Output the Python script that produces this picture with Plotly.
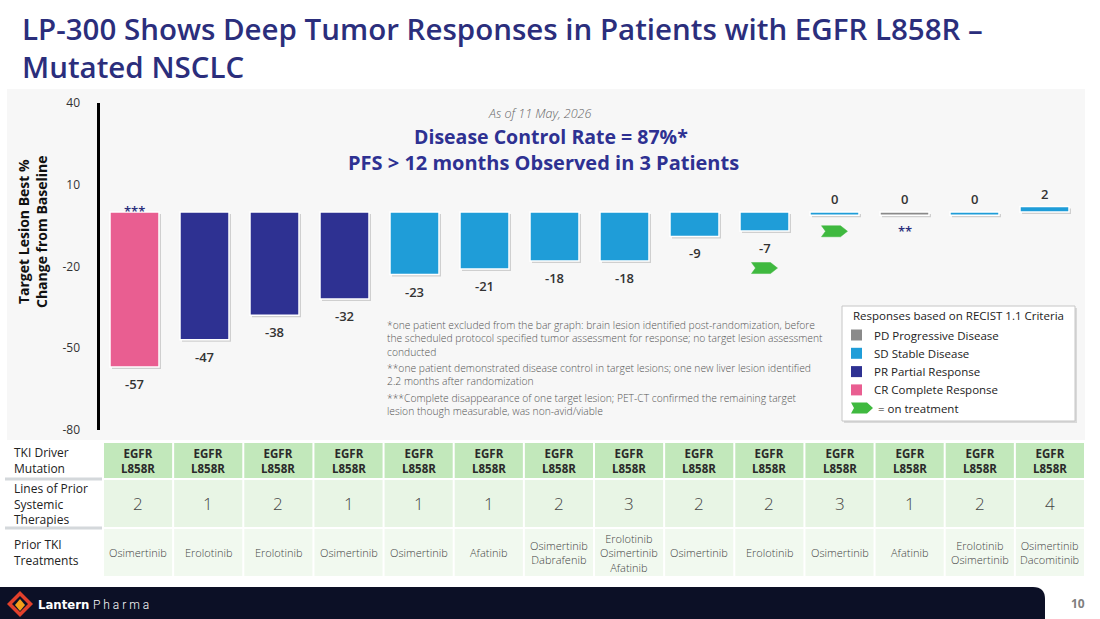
import plotly.graph_objects as go

# ---------------- data ----------------
patients = list(range(1, 15))
best_change = [-57, -47, -38, -32, -23, -21, -18, -18, -9, -7, 0, 0, 0, 2]
response = ["CR", "PR", "PR", "PR", "SD", "SD", "SD", "SD", "SD", "SD", "SD", "PD", "SD", "SD"]
on_treatment = [False] * 9 + [True, True] + [False] * 3
footnote_marks = ["***", "", "", "", "", "", "", "", "", "", "", "**", "", ""]
y_ticks = [-80, -50, -20, 10, 40]
y_tick_labels = ["-80", "-50", "-20", "10", "40"]

driver_mutation = ["EGFR<br>L858R"] * 14
prior_lines = [2, 1, 2, 1, 1, 1, 2, 3, 2, 2, 3, 1, 2, 4]
prior_tki = ["Osimertinib", "Erolotinib", "Erolotinib", "Osimertinib", "Osimertinib", "Afatinib",
             "Osimertinib<br>Dabrafenib", "Erolotinib<br>Osimertinib<br>Afatinib", "Osimertinib",
             "Erolotinib", "Osimertinib", "Afatinib", "Erolotinib<br>Osimertinib",
             "Osimertinib<br>Dacomitinib"]
row_labels = ["TKI Driver<br>Mutation", "Lines of Prior<br>Systemic<br>Therapies", "Prior TKI<br>Treatments"]

legend_order = ["PD", "SD", "PR", "CR"]
legend_labels = {"PD": "PD Progressive Disease", "SD": "SD Stable Disease",
                 "PR": "PR Partial Response", "CR": "CR Complete Response"}

title_text = "LP-300 Shows Deep Tumor Responses in Patients with EGFR L858R –<br>Mutated NSCLC"
date_text = "As of 11 May, 2026"
headline1 = "Disease Control Rate = 87%*"
headline2 = "PFS > 12 months Observed in 3 Patients"
footnotes = [
    "*one patient excluded from the bar graph: brain lesion identified post-randomization, before<br>"
    "the scheduled protocol specified tumor assessment for response; no target lesion assessment<br>conducted",
    "**one patient demonstrated disease control in target lesions; one new liver lesion identified<br>"
    "2.2 months after randomization",
    "***Complete disappearance of one target lesion; PET-CT confirmed the remaining target<br>"
    "lesion though measurable, was non-avid/viable",
]

# ---------------- style ----------------
W, H = 1100, 619
FONT = "Open Sans"
colors = {"CR": "#e95e91", "PR": "#2e3192", "SD": "#1f9dd8", "PD": "#8a8a8a"}
NAVY = "#2b2e7c"
GREEN = "#3fb93f"


def px(x):
    return x / W


def py(y):
    return 1 - y / H


def text(x, y, t, font, xanchor="center", yanchor="middle", **kw):
    d = dict(x=px(x), y=py(y), xref="paper", yref="paper", text=t, showarrow=False,
             xanchor=xanchor, yanchor=yanchor, font=font)
    d.update(kw)
    return d


# plot geometry (pixels)
X_LEFT, X_RIGHT = 99.5, 1079.5
Y_TOP, Y_BOT = 103.2, 429.6
Y_MIN, Y_MAX = -80, 40
PX_PER_UNIT = (Y_BOT - Y_TOP) / (Y_MAX - Y_MIN)
PX_PER_CAT = (X_RIGHT - X_LEFT) / len(patients)
MIN_BAR = 1.2  # minimum visible height for zero-change bars
BAR_W = 0.7
SHADOW = 2.0  # px

display_vals = [v if v != 0 else -MIN_BAR for v in best_change]
bar_colors = [colors[r] for r in response]
xs = list(range(len(patients)))

fig = go.Figure()

# soft drop shadow under the bars
fig.add_trace(go.Bar(
    x=xs, y=display_vals, base=-SHADOW / PX_PER_UNIT, width=BAR_W,
    offset=-BAR_W / 2 + SHADOW / PX_PER_CAT,
    marker=dict(color="rgba(0,0,0,0.16)", line=dict(width=0)),
    hoverinfo="skip", showlegend=False, xaxis="x", yaxis="y",
))
# bars
fig.add_trace(go.Bar(
    x=xs, y=display_vals, width=BAR_W,
    marker=dict(color=bar_colors, line=dict(color="white", width=1.5)),
    hoverinfo="skip", showlegend=False, xaxis="x", yaxis="y",
))

# "on treatment" chevrons
cw, ch, notch, tip = 26 / PX_PER_CAT, 11 / PX_PER_UNIT, 4 / PX_PER_CAT, 7 / PX_PER_CAT
chev_x, chev_y = [], []
for i, (v, d, flag) in enumerate(zip(best_change, display_vals, on_treatment)):
    if not flag:
        continue
    below = 37 if v < 0 else 16
    cy = min(d, 0) - below / PX_PER_UNIT
    cx = i
    pts = [(cx - cw / 2, cy + ch / 2), (cx + cw / 2 - tip, cy + ch / 2), (cx + cw / 2, cy),
           (cx + cw / 2 - tip, cy - ch / 2), (cx - cw / 2, cy - ch / 2), (cx - cw / 2 + notch, cy),
           (cx - cw / 2, cy + ch / 2)]
    chev_x += [p[0] for p in pts] + [None]
    chev_y += [p[1] for p in pts] + [None]
fig.add_trace(go.Scatter(x=chev_x, y=chev_y, mode="lines", fill="toself", fillcolor=GREEN,
                         line=dict(color=GREEN, width=0.5), hoverinfo="skip", showlegend=False,
                         xaxis="x", yaxis="y"))

shapes = []
ann = []

# background panel
shapes.append(dict(type="rect", xref="paper", yref="paper", x0=px(7), x1=px(1085), y0=py(440), y1=py(89),
                   fillcolor="#f7f7f7", line=dict(width=0), layer="below"))

# bar value labels and footnote marks
LBL = dict(family=FONT, size=13, color="#333", weight=600)
STAR = dict(family=FONT, size=13, color=NAVY, weight=600)
for i, (v, d, m) in enumerate(zip(best_change, display_vals, footnote_marks)):
    if v < 0:
        ann.append(dict(x=i, y=d, xref="x", yref="y", text=str(v), showarrow=False, xanchor="center",
                        yanchor="top", yshift=-6, font=LBL))
    else:
        ann.append(dict(x=i, y=max(v, 0), xref="x", yref="y", text=str(v), showarrow=False, xanchor="center",
                        yanchor="bottom", yshift=2, font=LBL))
    if m:
        if v < 0:
            ann.append(dict(x=i, y=0, xref="x", yref="y", text=m, showarrow=False, xanchor="center",
                            yanchor="middle", yshift=1, font=STAR))
        else:
            ann.append(dict(x=i, y=min(d, 0), xref="x", yref="y", text=m, showarrow=False, xanchor="center",
                            yanchor="middle", yshift=-16, font=STAR))

# titles
ann.append(text(20, 6, title_text, dict(family=FONT, size=29.5, color=NAVY, weight=600),
                xanchor="left", yanchor="top", align="left"))
ann.append(text(539, 113, "<i>" + date_text + "</i>", dict(family=FONT, size=12.5, color="#666", weight=300)))
ann.append(text(551, 137, headline1, dict(family=FONT, size=19.5, color="#2e3192", weight=700)))
ann.append(text(543, 162, headline2, dict(family=FONT, size=20, color="#2e3192", weight=700)))
ann.append(text(33, 232, "Target Lesion Best %<br>Change from Baseline",
                dict(family=FONT, size=14, color="#111", weight=700), textangle=-90))

# footnotes
for txt, top in zip(footnotes, [316, 359, 389]):
    ann.append(text(385, top, txt, dict(family=FONT, size=10.3, color="#555", weight=300),
                    xanchor="left", yanchor="top", align="left"))

# legend box
shapes.append(dict(type="rect", xref="paper", yref="paper", x0=px(844), x1=px(1077), y0=py(423), y1=py(308),
                   fillcolor="#d9d9d9", line=dict(width=0)))
shapes.append(dict(type="rect", xref="paper", yref="paper", x0=px(842), x1=px(1075), y0=py(421), y1=py(306),
                   fillcolor="white", line=dict(color="#c6c6c6", width=1)))
LEG = dict(family=FONT, size=11.5, color="#222")
ann.append(text(851, 315, "Responses based on RECIST 1.1 Criteria", dict(LEG, weight=500), xanchor="left"))
for k, code in enumerate(legend_order):
    cy = 335 + 18.3 * k
    shapes.append(dict(type="rect", xref="paper", yref="paper", x0=px(851), x1=px(862), y0=py(cy + 5.5),
                       y1=py(cy - 5.5), fillcolor=colors[code], line=dict(width=0)))
    ann.append(text(872, cy, legend_labels[code], LEG, xanchor="left"))


def chevron_path(cx, cy, w, h, n, t):
    pts = [(cx - w / 2, cy - h / 2), (cx + w / 2 - t, cy - h / 2), (cx + w / 2, cy), (cx + w / 2 - t, cy + h / 2),
           (cx - w / 2, cy + h / 2), (cx - w / 2 + n, cy)]
    return "M " + " L ".join(f"{px(a):.5f},{py(b):.5f}" for a, b in pts) + " Z"


shapes.append(dict(type="path", xref="paper", yref="paper", path=chevron_path(862, 408, 22, 11, 3, 6),
                   fillcolor=GREEN, line=dict(width=0)))
ann.append(text(876, 408, "= on treatment", LEG, xanchor="left"))

# table (axis x2 / y2)
row_tops = [0, 37, 86]
row_heights = [35, 47, 47]
row_fills = ["#c2e8bb", "#e8f5e5", "#f1f9ef"]
T_LEFT, T_RIGHT = 103, 1085
gap = 1 / ((T_RIGHT - T_LEFT) / len(patients))
table_rows = [
    (["<b>" + s + "</b>" for s in driver_mutation], dict(family=FONT, size=11.5, color="#2a2a2a")),
    ([str(n) for n in prior_lines], dict(family=FONT, size=17, color="#444", weight=300)),
    (prior_tki, dict(family=FONT, size=11, color="#444", weight=300)),
]
for r, ((texts, f), top, h, fill) in enumerate(zip(table_rows, row_tops, row_heights, row_fills)):
    for i, t in enumerate(texts):
        shapes.append(dict(type="rect", xref="x2", yref="y2", x0=i - 0.5 + gap, x1=i + 0.5 - gap,
                           y0=top, y1=top + h, fillcolor=fill, line=dict(width=0)))
        ann.append(dict(x=i, y=top + h / 2, xref="x2", yref="y2", text=t, showarrow=False,
                        xanchor="center", yanchor="middle", font=f))
    ann.append(dict(x=px(12), y=top + h / 2, xref="paper", yref="y2", xanchor="left", yanchor="middle",
                    align="left", text=row_labels[r], showarrow=False,
                    font=dict(family=FONT, size=12, color="#222")))
for top in row_tops[1:]:
    shapes.append(dict(type="line", xref="paper", yref="y2", x0=px(5), x1=px(102), y0=top - 1, y1=top - 1,
                       line=dict(color="#d4d8db", width=3)))

# footer
FOOT = "#0c1026"
r = 12
shapes.append(dict(type="path", xref="paper", yref="paper",
                   path=(f"M {px(0)},{py(619)} L {px(0)},{py(587)} L {px(1045 - r)},{py(587)} "
                         f"Q {px(1045)},{py(587)} {px(1045)},{py(587 + r)} L {px(1045)},{py(619)} Z"),
                   fillcolor=FOOT, line=dict(width=0)))


def diamond(cx, cy, hw, hh):
    return (f"M {px(cx)},{py(cy - hh)} L {px(cx + hw)},{py(cy)} L {px(cx)},{py(cy + hh)} "
            f"L {px(cx - hw)},{py(cy)} Z")


shapes.append(dict(type="path", xref="paper", yref="paper", path=diamond(20, 604, 13, 13),
                   fillcolor="#e2402b", line=dict(width=0)))
shapes.append(dict(type="path", xref="paper", yref="paper", path=diamond(20, 604, 8, 8),
                   fillcolor=FOOT, line=dict(width=0)))
shapes.append(dict(type="path", xref="paper", yref="paper", path=diamond(20, 605, 5, 6),
                   fillcolor="#f6a01a", line=dict(width=0)))
ann.append(text(36, 604, "Lantern", dict(family="DejaVu Sans Condensed, Roboto", size=13, color="white",
                                         weight=700), xanchor="left"))
ann.append(text(91, 605, "P h a r m a", dict(family="Roboto", size=12, color="white", weight=300),
                xanchor="left"))
ann.append(text(1078, 603, "<b>10</b>", dict(family=FONT, size=12, color="#7f7f7f")))

fig.update_layout(
    width=W, height=H, autosize=False,
    margin=dict(l=0, r=0, t=0, b=0, pad=0, autoexpand=False),
    paper_bgcolor="white", plot_bgcolor="rgba(0,0,0,0)",
    showlegend=False, barmode="overlay",
    xaxis=dict(domain=[px(X_LEFT), px(X_RIGHT)], range=[-0.5, len(patients) - 0.5], visible=False,
               fixedrange=True, automargin=False),
    yaxis=dict(domain=[py(Y_BOT), py(Y_TOP)], range=[Y_MIN, Y_MAX], tickvals=y_ticks, ticktext=y_tick_labels,
               showgrid=False, zeroline=False, showline=True, linecolor="black", linewidth=3, ticks="",
               ticklabelstandoff=14, tickfont=dict(family=FONT, size=12, color="#333"), fixedrange=True,
               automargin=False),
    xaxis2=dict(domain=[px(T_LEFT), px(T_RIGHT)], range=[-0.5, len(patients) - 0.5], visible=False,
                anchor="y2", fixedrange=True, automargin=False),
    yaxis2=dict(domain=[py(576), py(443)], range=[133, 0], visible=False, anchor="x2", fixedrange=True,
                automargin=False),
    shapes=shapes, annotations=ann,
)

fig.write_html("out.html", config={"displayModeBar": False},
               post_script="document.body.style.margin='0';document.body.style.overflow='hidden';")
